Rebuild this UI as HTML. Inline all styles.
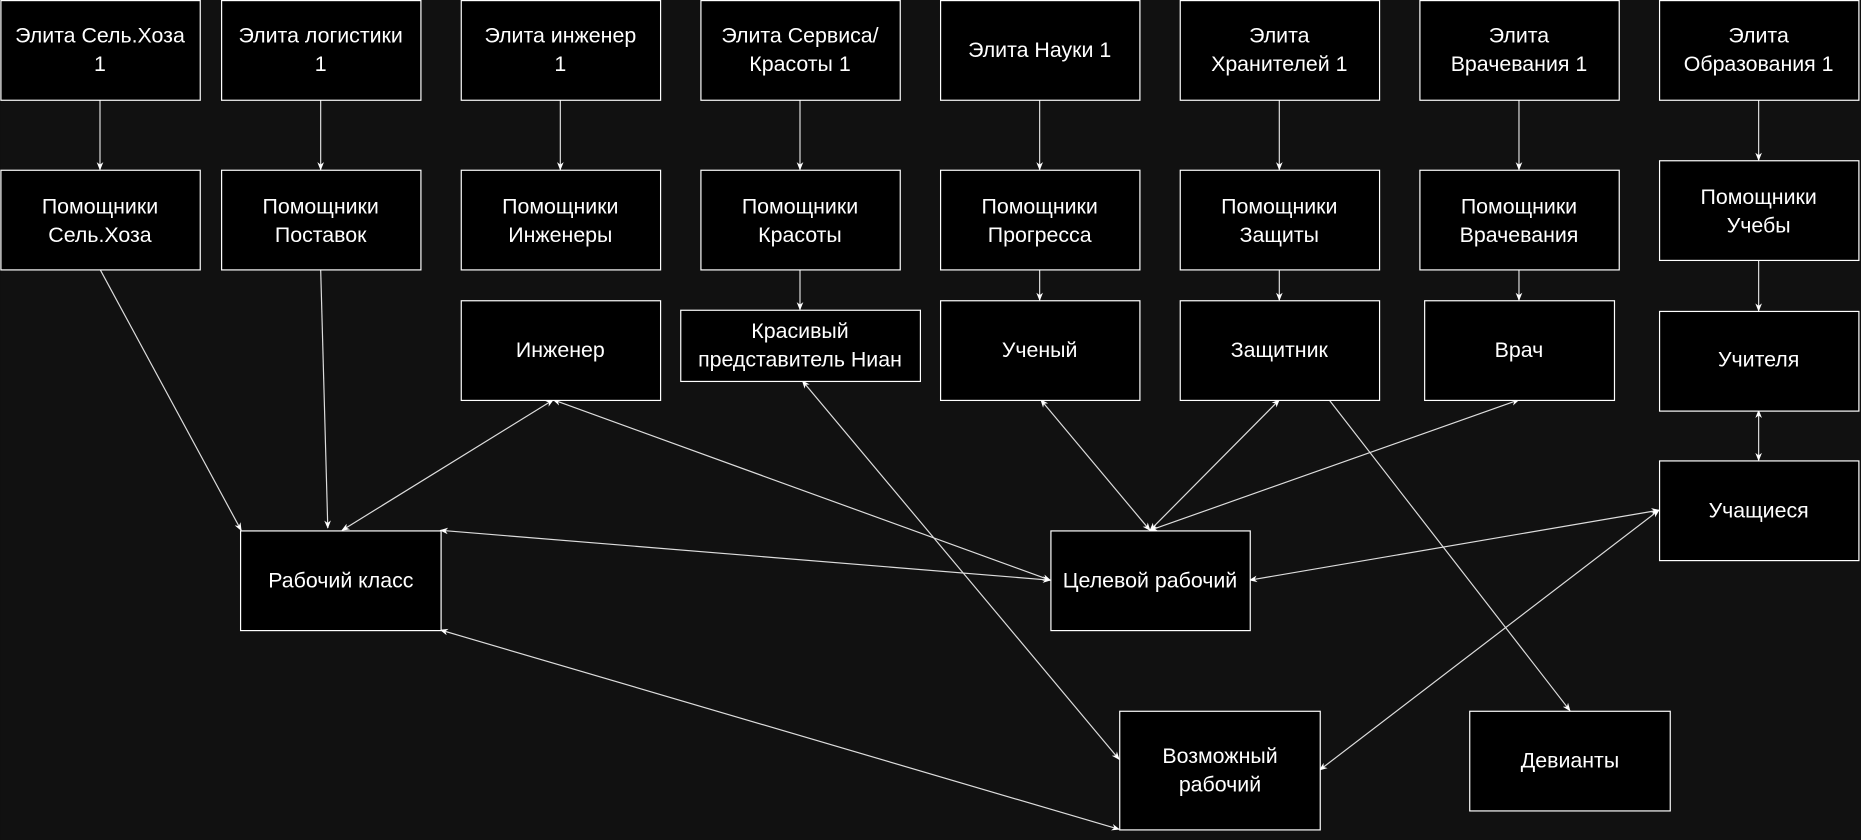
<!DOCTYPE html>
<html><head><meta charset="utf-8"><style>
html,body{margin:0;padding:0;background:#111111;}
svg{display:block}
text{font-family:"Liberation Sans",sans-serif;font-size:18px;fill:#ffffff;text-anchor:middle}
rect{fill:#000;stroke:#fff;stroke-width:1}
line{stroke:#ddd;stroke-width:1}
</style></head><body>
<svg width="1861" height="840" viewBox="0 0 1568 708" xmlns="http://www.w3.org/2000/svg">
<defs><marker id="a" viewBox="0 0 10 10" refX="9" refY="5" markerWidth="7" markerHeight="7" orient="auto-start-reverse"><path d="M0,1 L10,5 L0,9 L3,5 Z" fill="#fff"/></marker></defs>
<rect x="0" y="0" width="1568" height="708" style="fill:#111;stroke:none"/>
<!-- vertical edges -->
<g marker-end="url(#a)">
<line x1="84" y1="84" x2="84" y2="143"/><line x1="270" y1="84" x2="270" y2="143"/>
<line x1="472" y1="84" x2="472" y2="143"/><line x1="674" y1="84" x2="674" y2="143"/>
<line x1="876" y1="84" x2="876" y2="143"/><line x1="1078" y1="84" x2="1078" y2="143"/>
<line x1="1280" y1="84" x2="1280" y2="143"/><line x1="1482" y1="84" x2="1482" y2="135"/>
<line x1="674" y1="227" x2="674" y2="261"/><line x1="876" y1="227" x2="876" y2="253"/>
<line x1="1078" y1="227" x2="1078" y2="253"/><line x1="1280" y1="227" x2="1280" y2="253"/>
<line x1="1482" y1="219" x2="1482" y2="262"/>
<line x1="84" y1="227" x2="203" y2="447"/><line x1="270" y1="227" x2="276" y2="445"/>
<line x1="1120" y1="337" x2="1323" y2="599"/>
</g>
<g marker-start="url(#a)" marker-end="url(#a)">
<line x1="466" y1="337" x2="288" y2="447"/>
<line x1="466" y1="337" x2="885" y2="489"/>
<line x1="371" y1="447" x2="885" y2="489"/>
<line x1="676" y1="321" x2="943" y2="640"/>
<line x1="877" y1="337" x2="969" y2="447"/>
<line x1="1078" y1="337" x2="969" y2="447"/>
<line x1="1280" y1="337" x2="969" y2="447"/>
<line x1="1482" y1="346" x2="1482" y2="388"/>
<line x1="1398" y1="430" x2="1053" y2="489"/>
<line x1="1398" y1="430" x2="1112" y2="649"/>
<line x1="371" y1="531" x2="943" y2="699"/>
</g>
<!-- row1 -->
<rect x="0.5" y="0.5" width="168" height="84"/><text x="84" y="36">Элита Сель.Хоза</text><text x="84" y="60">1</text>
<rect x="186.5" y="0.5" width="168" height="84"/><text x="270" y="36">Элита логистики</text><text x="270" y="60">1</text>
<rect x="388.5" y="0.5" width="168" height="84"/><text x="472" y="36">Элита инженер</text><text x="472" y="60">1</text>
<rect x="590.5" y="0.5" width="168" height="84"/><text x="674" y="36">Элита Сервиса/</text><text x="674" y="60">Красоты 1</text>
<rect x="792.5" y="0.5" width="168" height="84"/><text x="876" y="48">Элита Науки 1</text>
<rect x="994.5" y="0.5" width="168" height="84"/><text x="1078" y="36">Элита</text><text x="1078" y="60">Хранителей 1</text>
<rect x="1196.5" y="0.5" width="168" height="84"/><text x="1280" y="36">Элита</text><text x="1280" y="60">Врачевания 1</text>
<rect x="1398.5" y="0.5" width="168" height="84"/><text x="1482" y="36">Элита</text><text x="1482" y="60">Образования 1</text>
<!-- row2 -->
<rect x="0.5" y="143.5" width="168" height="84"/><text x="84" y="180">Помощники</text><text x="84" y="204">Сель.Хоза</text>
<rect x="186.5" y="143.5" width="168" height="84"/><text x="270" y="180">Помощники</text><text x="270" y="204">Поставок</text>
<rect x="388.5" y="143.5" width="168" height="84"/><text x="472" y="180">Помощники</text><text x="472" y="204">Инженеры</text>
<rect x="590.5" y="143.5" width="168" height="84"/><text x="674" y="180">Помощники</text><text x="674" y="204">Красоты</text>
<rect x="792.5" y="143.5" width="168" height="84"/><text x="876" y="180">Помощники</text><text x="876" y="204">Прогресса</text>
<rect x="994.5" y="143.5" width="168" height="84"/><text x="1078" y="180">Помощники</text><text x="1078" y="204">Защиты</text>
<rect x="1196.5" y="143.5" width="168" height="84"/><text x="1280" y="180">Помощники</text><text x="1280" y="204">Врачевания</text>
<rect x="1398.5" y="135.5" width="168" height="84"/><text x="1482" y="172">Помощники</text><text x="1482" y="196">Учебы</text>
<!-- row3 -->
<rect x="388.5" y="253.5" width="168" height="84"/><text x="472" y="301">Инженер</text>
<rect x="573.5" y="261.5" width="202" height="60"/><text x="674" y="285">Красивый</text><text x="674" y="309">представитель Ниан</text>
<rect x="792.5" y="253.5" width="168" height="84"/><text x="876" y="301">Ученый</text>
<rect x="994.5" y="253.5" width="168" height="84"/><text x="1078" y="301">Защитник</text>
<rect x="1200.5" y="253.5" width="160" height="84"/><text x="1280" y="301">Врач</text>
<rect x="1398.5" y="262.5" width="168" height="84"/><text x="1482" y="309">Учителя</text>
<rect x="1398.5" y="388.5" width="168" height="84"/><text x="1482" y="436">Учащиеся</text>
<rect x="202.5" y="447.5" width="169" height="84"/><text x="287" y="495">Рабочий класс</text>
<rect x="885.5" y="447.5" width="168" height="84"/><text x="969" y="495">Целевой рабочий</text>
<rect x="943.5" y="599.5" width="169" height="100"/><text x="1028" y="643">Возможный</text><text x="1028" y="667">рабочий</text>
<rect x="1238.5" y="599.5" width="169" height="84"/><text x="1323" y="647">Девианты</text>
</svg>
</body></html>
